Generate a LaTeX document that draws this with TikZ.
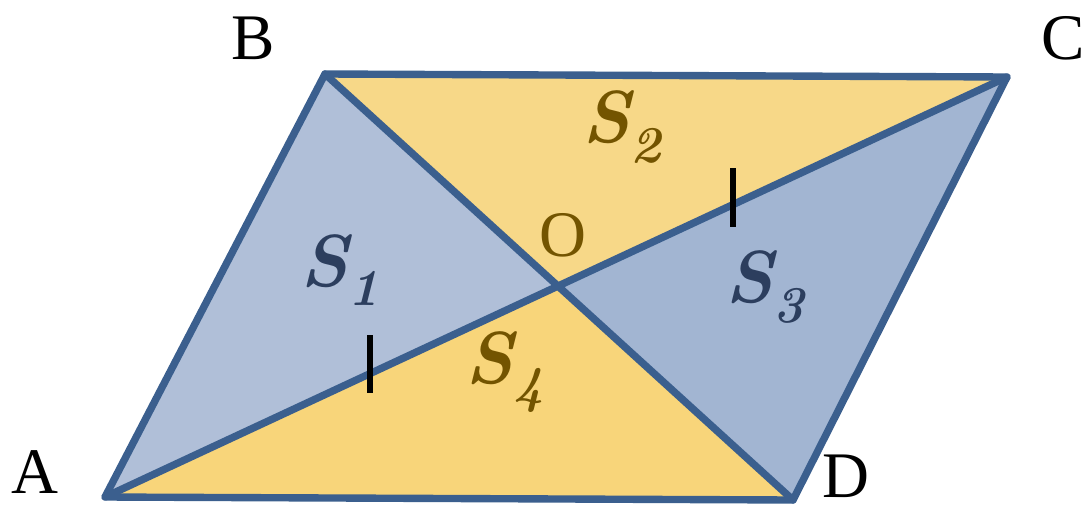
\documentclass[tikz,border=0pt]{standalone}
\usepackage{fontspec}
\newfontfamily\vertexfont{Liberation Serif}
\usepackage{tikz}
\usetikzlibrary{calc}
\definecolor{paleblue}{HTML}{B0BFD8}
\definecolor{deepblue}{HTML}{A2B5D2}
\definecolor{paleyellow}{HTML}{F7D888}
\definecolor{deepyellow}{HTML}{F8D57A}
\definecolor{edgeblue}{HTML}{3B5F8E}
\definecolor{inkblue}{HTML}{2C3E5E}
\definecolor{inkgold}{HTML}{735400}

\begin{document}
\begin{tikzpicture}[x=0.02cm,y=-0.02cm,
  side/.style={draw=edgeblue,line width=4.2pt,line join=round,line cap=round},
  tick/.style={draw=black,line width=3.4pt},
  vertex/.style={font=\vertexfont\fontsize{37}{40}\selectfont,inner sep=0pt},
  area/.style={font=\fontsize{42}{46}\selectfont\bfseries\itshape,inner sep=0pt}]
\useasboundingbox (0,0) rectangle (1084,507);
\coordinate (A) at (105,497);
\coordinate (B) at (325,74);
\coordinate (C) at (1007,77);
\coordinate (D) at (793,500);
\coordinate (O) at (intersection of A--C and B--D);
% four triangles round O
\fill[paleblue] (A) -- (B) -- (O) -- cycle;
\fill[paleyellow] (B) -- (C) -- (O) -- cycle;
\fill[deepblue] (C) -- (D) -- (O) -- cycle;
\fill[deepyellow] (D) -- (A) -- (O) -- cycle;
\draw[side] (A) -- (B) -- (C) -- (D) -- cycle;
\draw[side] (A) -- (C);
\draw[side] (B) -- (D);
% equal halves of AC
\draw[tick] (370,335) -- (370,393);
\draw[tick] (733,168) -- (733,227);
\node[vertex] (lA) at (35,472) {A};
\node[vertex] (lB) at (253,38) {B};
\node[vertex] (lC) at (1063,38) {C};
\node[vertex] (lD) at (846,476) {D};
\node[vertex,text=inkgold] (lO) at (563,235) {O};
\node[area,text=inkblue] (s1) at (340,270) {S\textsubscript{1}};
\node[area,text=inkgold] (s2) at (622,127) {S\textsubscript{2}};
\node[area,text=inkblue] (s3) at (765,287) {S\textsubscript{3}};
\node[area,text=inkgold] (s4) at (505,372) {S\textsubscript{4}};
\end{tikzpicture}
\end{document}
